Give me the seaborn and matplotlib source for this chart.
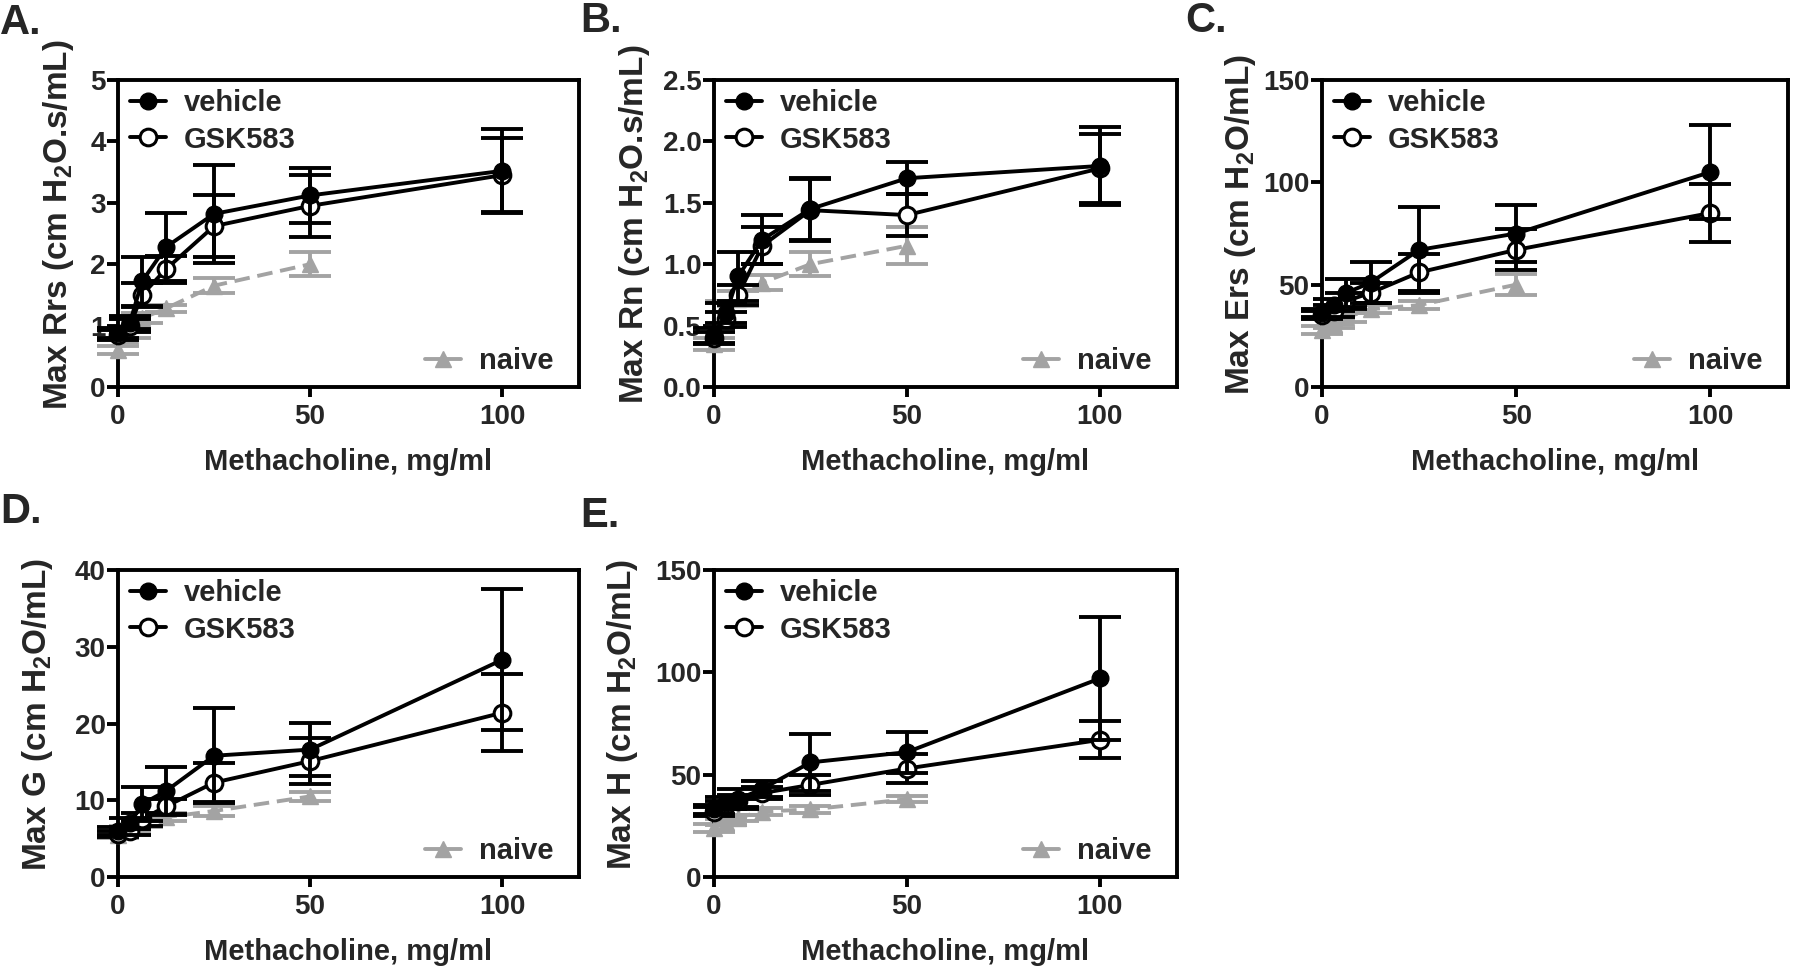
import numpy as np
import pandas as pd
import matplotlib
matplotlib.use("Agg")
import matplotlib.pyplot as plt
import seaborn as sns
from matplotlib.lines import Line2D

sns.set_theme(style="white")
plt.rcParams['font.family'] = ['Liberation Sans', 'DejaVu Sans']
plt.rcParams['font.weight'] = 'bold'
plt.rcParams['mathtext.fontset'] = 'custom'
plt.rcParams['mathtext.rm'] = 'Liberation Sans:bold'
plt.rcParams['mathtext.bf'] = 'Liberation Sans:bold'
plt.rcParams['mathtext.it'] = 'Liberation Sans:bold'
plt.rcParams['mathtext.default'] = 'rm'

doses = [0, 3.125, 6.25, 12.5, 25, 50, 100]
naive_doses = [0, 3.125, 6.25, 12.5, 25, 50]

# Panel A: Max Rrs
rrs_vehicle = [0.88, 1.05, 1.72, 2.28, 2.82, 3.12, 3.52]
rrs_vehicle_err = [0.08, 0.10, 0.40, 0.55, 0.80, 0.45, 0.68]
rrs_gsk = [0.85, 1.00, 1.50, 1.92, 2.62, 2.95, 3.45]
rrs_gsk_err = [0.08, 0.10, 0.20, 0.22, 0.50, 0.50, 0.60]
rrs_naive = [0.60, 0.85, 1.12, 1.28, 1.65, 2.00]
rrs_naive_err = [0.06, 0.06, 0.08, 0.06, 0.12, 0.20]

# Panel B: Max Rn
rn_vehicle = [0.42, 0.60, 0.90, 1.20, 1.45, 1.70, 1.80]
rn_vehicle_err = [0.06, 0.08, 0.20, 0.20, 0.25, 0.13, 0.32]
rn_gsk = [0.40, 0.55, 0.75, 1.15, 1.44, 1.40, 1.78]
rn_gsk_err = [0.05, 0.06, 0.08, 0.15, 0.25, 0.17, 0.28]
rn_naive = [0.35, 0.60, 0.72, 0.85, 1.00, 1.15]
rn_naive_err = [0.05, 0.10, 0.06, 0.06, 0.10, 0.15]

# Panel C: Max Ers
ers_vehicle = [36, 40, 46, 51, 67, 75, 105]
ers_vehicle_err = [2, 3, 7, 10, 21, 14, 23]
ers_gsk = [35, 37, 42, 46, 56, 67, 85]
ers_gsk_err = [2, 3, 4, 5, 9, 10, 14]
ers_naive = [28, 31, 34, 38, 40, 50]
ers_naive_err = [2, 2, 2, 2, 2, 5]

# Panel D: Max G
g_vehicle = [6.0, 7.0, 9.5, 11.2, 15.8, 16.6, 28.3]
g_vehicle_err = [0.5, 0.7, 2.2, 3.1, 6.2, 3.5, 9.2]
g_gsk = [5.6, 6.0, 7.5, 9.2, 12.3, 15.1, 21.4]
g_gsk_err = [0.4, 0.5, 0.8, 1.0, 2.5, 3.0, 5.0]
g_naive = [5.5, 6.3, 7.0, 7.8, 8.6, 10.5]
g_naive_err = [0.4, 0.4, 0.5, 0.5, 0.6, 0.6]

# Panel E: Max H
h_vehicle = [33, 36, 38, 43, 56, 61, 97]
h_vehicle_err = [2, 3, 5, 4, 14, 10, 30]
h_gsk = [32, 35, 37, 41, 45, 53, 67]
h_gsk_err = [2, 2, 3, 3, 5, 7, 9]
h_naive = [24, 27, 29, 32, 33, 38]
h_naive_err = [2, 1.5, 1.5, 1.5, 1.5, 1.5]

panel_letters = ["A.", "B.", "C.", "D.", "E."]
ylabels = [r"Max Rrs (cm H$_2$O.s/mL)", r"Max Rn (cm H$_2$O.s/mL)",
           r"Max Ers (cm H$_2$O/mL)", r"Max G (cm H$_2$O/mL)", r"Max H (cm H$_2$O/mL)"]
yticks_list = [[0, 1, 2, 3, 4, 5], [0.0, 0.5, 1.0, 1.5, 2.0, 2.5],
               [0, 50, 100, 150], [0, 10, 20, 30, 40], [0, 50, 100, 150]]
ytick_labels = [["0", "1", "2", "3", "4", "5"], ["0.0", "0.5", "1.0", "1.5", "2.0", "2.5"],
                ["0", "50", "100", "150"], ["0", "10", "20", "30", "40"], ["0", "50", "100", "150"]]
xticks = [0, 50, 100]
xlabel = "Methacholine, mg/ml"
group_names = ["vehicle", "GSK583", "naive"]

panels = [
    (rrs_vehicle, rrs_vehicle_err, rrs_gsk, rrs_gsk_err, rrs_naive, rrs_naive_err),
    (rn_vehicle, rn_vehicle_err, rn_gsk, rn_gsk_err, rn_naive, rn_naive_err),
    (ers_vehicle, ers_vehicle_err, ers_gsk, ers_gsk_err, ers_naive, ers_naive_err),
    (g_vehicle, g_vehicle_err, g_gsk, g_gsk_err, g_naive, g_naive_err),
    (h_vehicle, h_vehicle_err, h_gsk, h_gsk_err, h_naive, h_naive_err),
]

W, H = 1800, 973
fig = plt.figure(figsize=(18, 9.73), dpi=100)

# axes boxes in pixel coords: left, top, right, bottom
boxes = [(118, 80, 579, 387), (714, 80, 1177, 387), (1322, 80, 1788, 387),
         (118, 570, 579, 877), (714, 570, 1177, 877)]
letter_pos = [(0, 3), (580, 1), (1185, 1), (0, 492), (580, 496)]
ylabel_x = [-0.128, -0.172, -0.174, -0.174, -0.197]

GRAY = "#a3a3a3"
LW = 2.8
MS = 12
CAP = 15
FS_TICK = 20
FS_LAB = 21
FS_YLAB = 24
FS_LEG = 21

for i, (box, data) in enumerate(zip(boxes, panels)):
    l, t, r, b = box
    ax = fig.add_axes([l / W, 1 - b / H, (r - l) / W, (b - t) / H])
    veh, veh_e, gsk, gsk_e, nav, nav_e = data

    # naive
    ax.errorbar(naive_doses, nav, yerr=nav_e, fmt='none', ecolor=GRAY, elinewidth=LW,
                capsize=CAP, capthick=LW, clip_on=False, zorder=2)
    sns.lineplot(x=naive_doses, y=nav, ax=ax, color=GRAY, lw=LW, linestyle=(0, (4, 2)),
                 marker='^', markersize=MS, markerfacecolor=GRAY, markeredgecolor=GRAY,
                 markeredgewidth=1, clip_on=False, zorder=3, legend=False)
    # GSK583
    ax.errorbar(doses, gsk, yerr=gsk_e, fmt='none', ecolor='black', elinewidth=LW,
                capsize=CAP, capthick=LW, clip_on=False, zorder=4)
    sns.lineplot(x=doses, y=gsk, ax=ax, color='black', lw=LW,
                 marker='o', markersize=MS, markerfacecolor='white', markeredgecolor='black',
                 markeredgewidth=2.2, clip_on=False, zorder=5, legend=False)
    # vehicle
    ax.errorbar(doses, veh, yerr=veh_e, fmt='none', ecolor='black', elinewidth=LW,
                capsize=CAP, capthick=LW, clip_on=False, zorder=6)
    sns.lineplot(x=doses, y=veh, ax=ax, color='black', lw=LW,
                 marker='o', markersize=MS, markerfacecolor='black', markeredgecolor='black',
                 markeredgewidth=1, clip_on=False, zorder=7, legend=False)

    yt = yticks_list[i]
    ax.set_xlim(0, 120)
    ax.set_ylim(yt[0], yt[-1])
    ax.set_xticks(xticks)
    ax.set_xticklabels([str(v) for v in xticks], fontsize=FS_TICK, fontweight='bold')
    ax.set_yticks(yt)
    ax.set_yticklabels(ytick_labels[i], fontsize=FS_TICK, fontweight='bold')
    ax.tick_params(axis='both', direction='out', width=LW, color='black',
                   left=True, bottom=True)
    ax.tick_params(axis='x', length=7, pad=5)
    ax.tick_params(axis='y', length=8, pad=1)
    for s in ax.spines.values():
        s.set_visible(True)
        s.set_linewidth(LW)
        s.set_color('black')
    ax.set_xlabel(xlabel, fontsize=FS_LAB, fontweight='bold', va='center')
    ax.xaxis.set_label_coords(0.5, -0.245)
    ax.set_ylabel(ylabels[i], fontsize=FS_YLAB, fontweight='bold', va='center')
    ax.yaxis.set_label_coords(ylabel_x[i], 0.53)

    h_veh = Line2D([], [], color='black', lw=LW, marker='o', markersize=MS,
                   markerfacecolor='black', markeredgecolor='black')
    h_gsk = Line2D([], [], color='black', lw=LW, marker='o', markersize=MS,
                   markerfacecolor='white', markeredgecolor='black', markeredgewidth=2.2)
    h_nav = Line2D([], [], color=GRAY, lw=LW, marker='^', markersize=MS,
                   markerfacecolor=GRAY, markeredgecolor=GRAY)
    leg1 = ax.legend([h_veh, h_gsk], group_names[:2], loc='upper left',
                     bbox_to_anchor=(0.013, 0.99), frameon=False, handlelength=1.25,
                     handletextpad=0.6, borderaxespad=0.0, borderpad=0.2,
                     labelspacing=0.3, prop={'weight': 'bold', 'size': FS_LEG})
    ax.add_artist(leg1)
    ax.legend([h_nav], group_names[2:], loc='lower right', bbox_to_anchor=(0.957, 0.02),
              frameon=False, handlelength=1.25, handletextpad=0.6, borderaxespad=0.0,
              borderpad=0.2, prop={'weight': 'bold', 'size': FS_LEG})

    lx, ly = letter_pos[i]
    fig.text(lx / W, 1 - ly / H, panel_letters[i], fontsize=30, fontweight='bold',
             ha='left', va='top')

fig.savefig("out.png", dpi=100, facecolor='white')
